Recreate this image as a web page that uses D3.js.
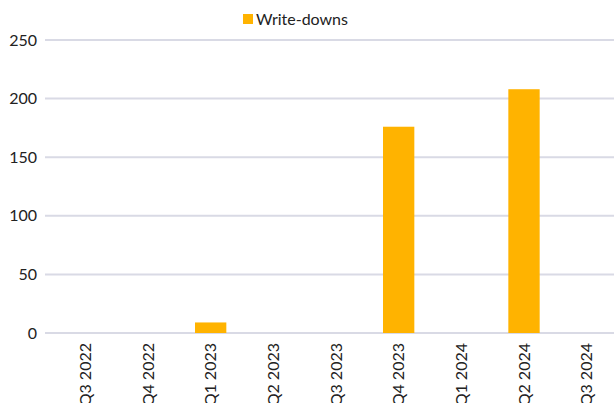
<!DOCTYPE html>
<html>
<head>
<meta charset="utf-8">
<script src="https://cdn.jsdelivr.net/npm/d3@7"></script>
<style>
  body { margin: 0; background: #fff; }
  svg { font-family: Lato, "Open Sans", sans-serif; }
</style>
</head>
<body>
<div id="chart"></div>
<script>
const quarters = ["Q3 2022", "Q4 2022", "Q1 2023", "Q2 2023", "Q3 2023", "Q4 2023", "Q1 2024", "Q2 2024", "Q3 2024"];
const writeDowns = [0, 0, 9, 0, 0, 176, 0, 208, 0];
const yTicks = [0, 50, 100, 150, 200, 250];

const width = 614, height = 403;

const svg = d3.select("#chart")
    .append("svg")
    .attr("width", width)
    .attr("height", height);

const xScale = d3.scaleBand()
    .domain(quarters)
    .range([54, 618])
    .paddingInner(0.5)
    .paddingOuter(0.25);

const yScale = d3.scaleLinear()
    .domain([0, 250])
    .range([333, 40]);

// gridlines
svg.append("g")
    .selectAll("line")
    .data(yTicks)
    .enter()
    .append("line")
        .attr("x1", 45)
        .attr("x2", width)
        .attr("y1", d => yScale(d))
        .attr("y2", d => yScale(d))
        .style("stroke", "#d9dae5")
        .style("stroke-width", 2);

// y labels
svg.append("g")
    .selectAll("text")
    .data(yTicks)
    .enter()
    .append("text")
        .attr("x", 37)
        .attr("y", d => yScale(d))
        .attr("dy", "0.35em")
        .attr("text-anchor", "end")
        .style("font-size", "16px")
        .style("fill", "#222")
        .text(d => d);

// bars
svg.append("g")
    .selectAll("rect")
    .data(quarters.map((q, i) => ({ q: q, v: writeDowns[i] })))
    .enter()
    .append("rect")
        .attr("x", d => xScale(d.q))
        .attr("y", d => yScale(d.v))
        .attr("width", xScale.bandwidth())
        .attr("height", d => yScale(0) - yScale(d.v))
        .style("fill", "#ffb300");

// x labels (rotated)
svg.append("g")
    .selectAll("text")
    .data(quarters)
    .enter()
    .append("text")
        .attr("transform", d => "translate(" + (xScale(d) + xScale.bandwidth() / 2) + ",343) rotate(-90)")
        .attr("dy", "0.35em")
        .attr("text-anchor", "end")
        .style("font-size", "16px")
        .style("fill", "#222")
        .text(d => d);

// legend
const legend = svg.append("g");
legend.append("rect")
    .attr("x", 243)
    .attr("y", 14)
    .attr("width", 10)
    .attr("height", 10)
    .style("fill", "#ffb300");
legend.append("text")
    .attr("x", 256)
    .attr("y", 19)
    .attr("dy", "0.35em")
    .style("font-size", "16px")
    .style("fill", "#222")
    .text("Write-downs");
</script>
</body>
</html>
